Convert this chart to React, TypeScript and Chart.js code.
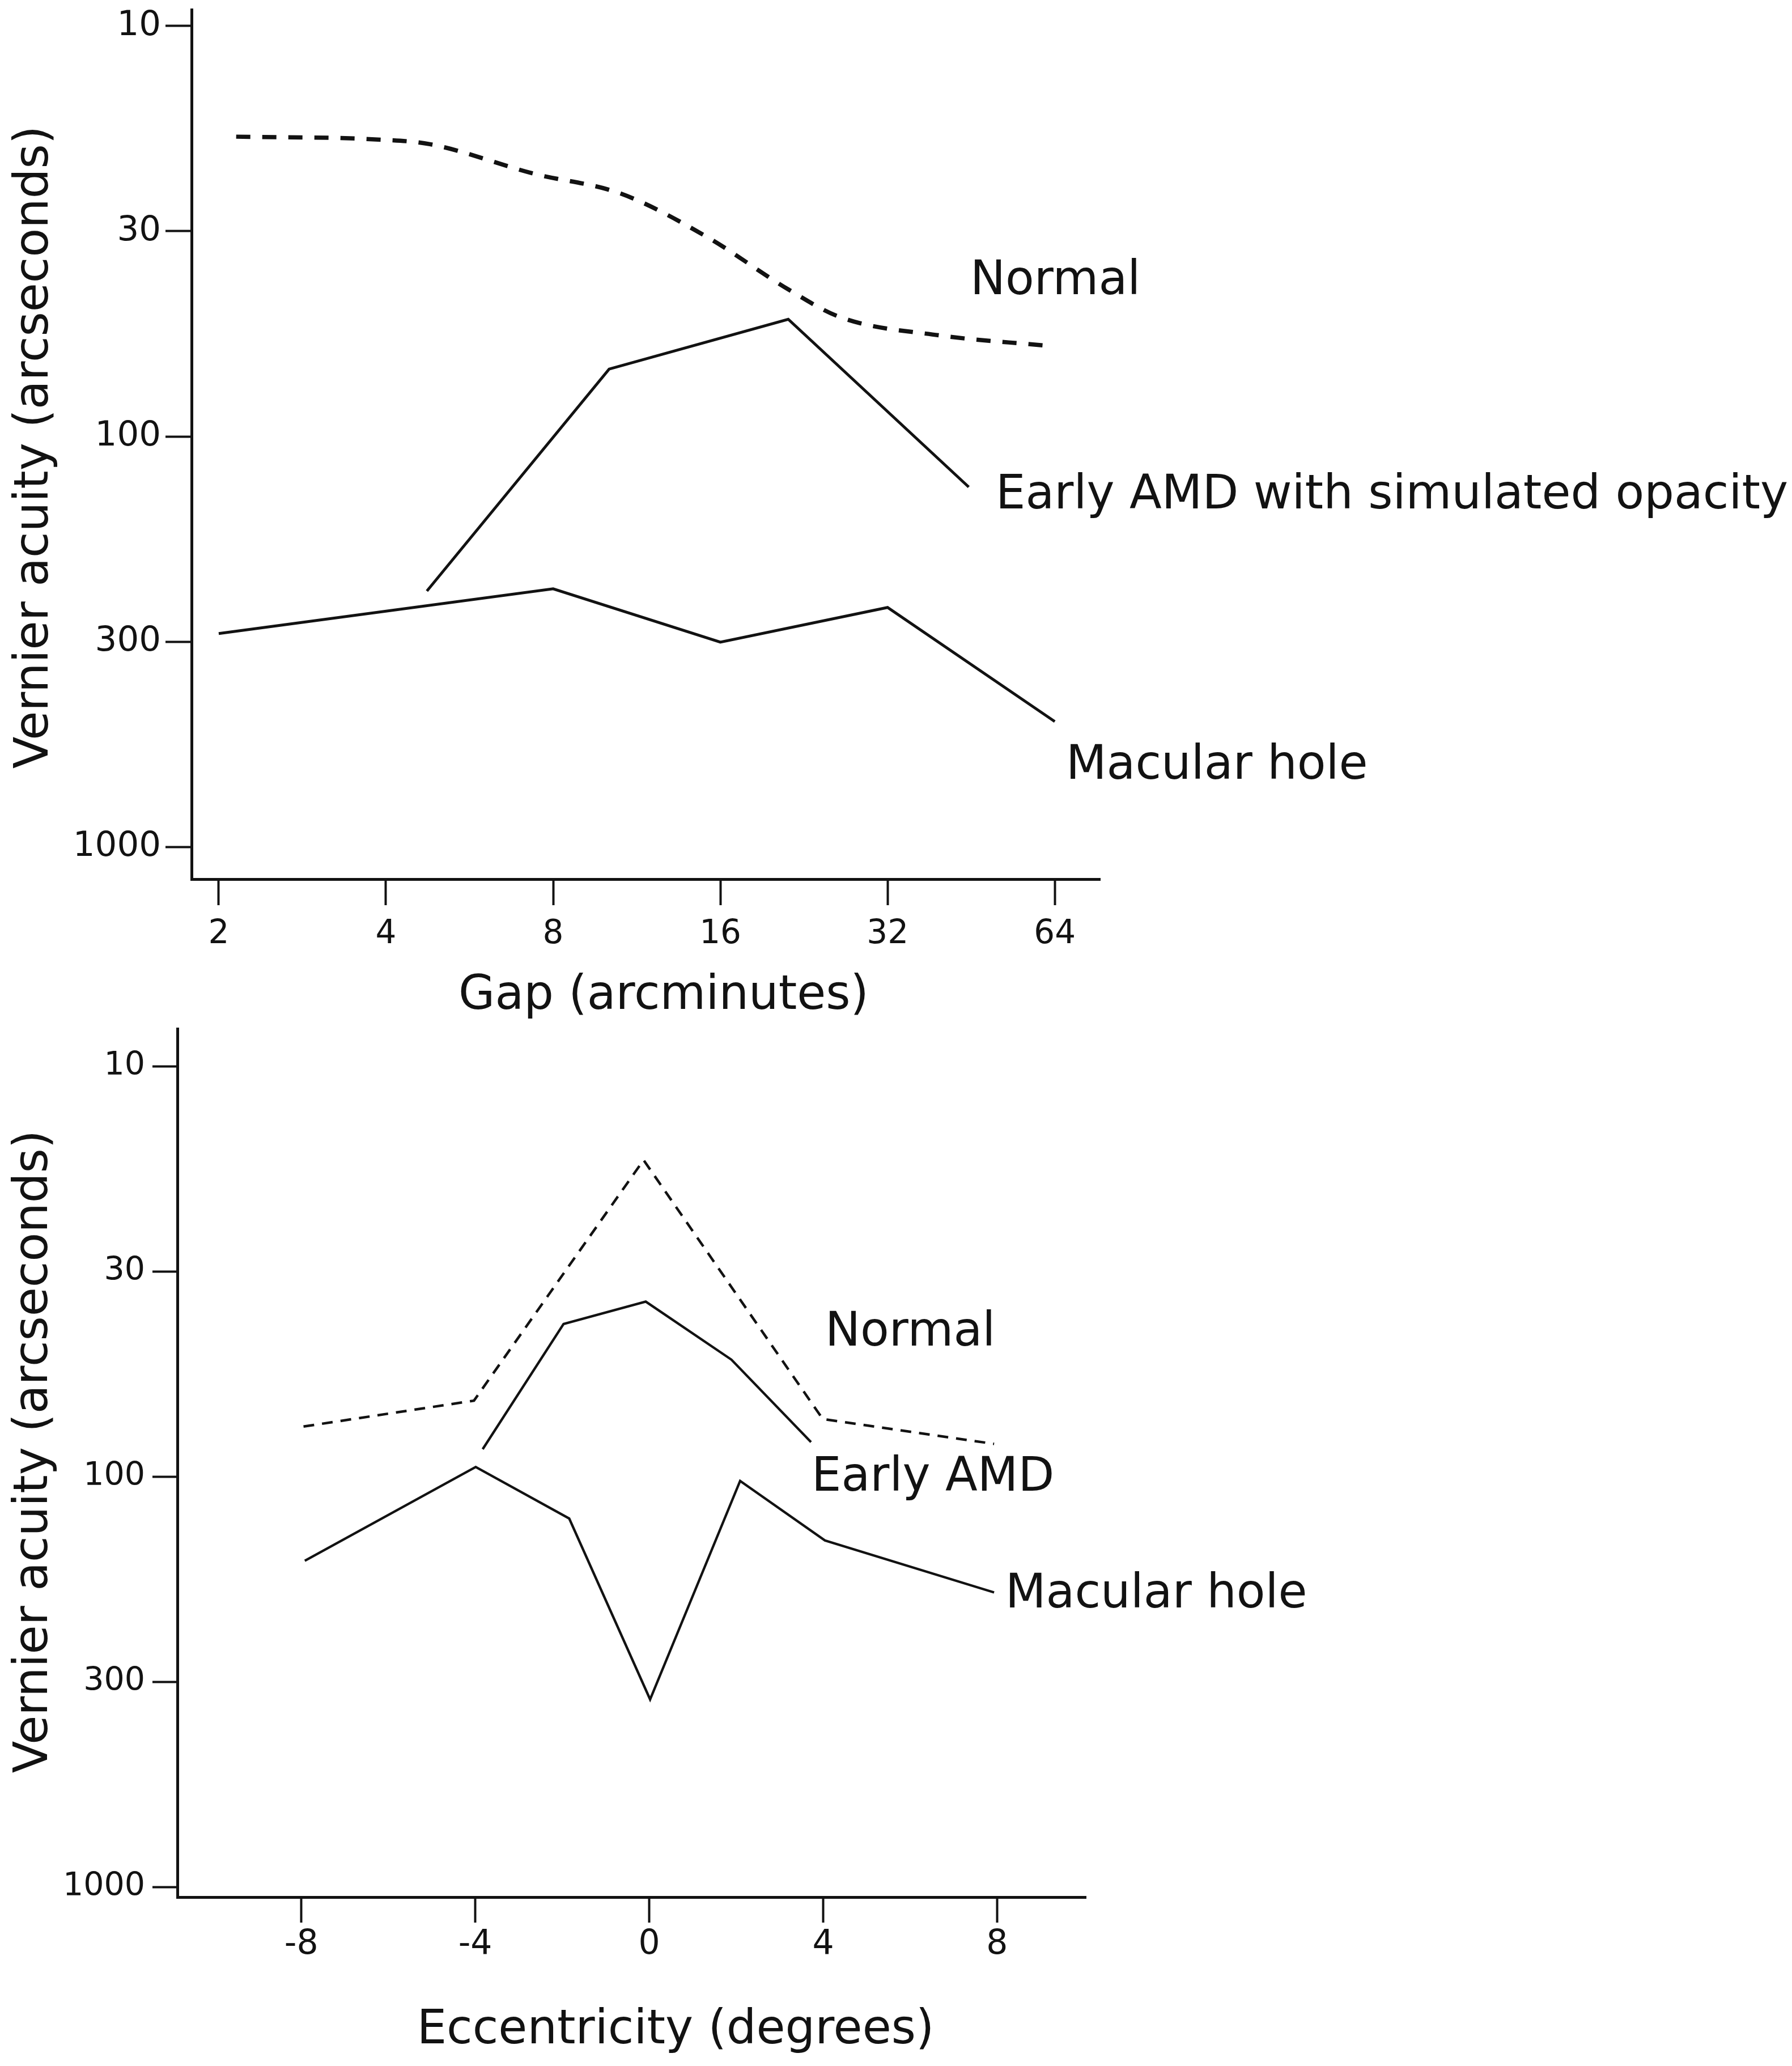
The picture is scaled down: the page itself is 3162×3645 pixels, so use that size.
import React, { useEffect, useRef } from 'react';
import { Chart, registerables } from 'chart.js';

Chart.register(...registerables);

const FONT = '"DejaVu Sans", Verdana, sans-serif';
const INK = '#121212';

// ---------- shared y axis (Vernier acuity, arcseconds, log scale) ----------
const ACUITY_TICK_VALUES = [10, 31.62, 100, 316.2, 1000];
const ACUITY_TICK_LABELS = ['10', '30', '100', '300', '1000'];
const Y_TITLE = 'Vernier acuity (arcseconds)';

// ---------- panel A: gap ----------
const GAP_TICK_VALUES = [2, 4, 8, 16, 32, 64];
const GAP_TICK_LABELS = ['2', '4', '8', '16', '32', '64'];
const GAP_TITLE = 'Gap (arcminutes)';
const GAP_SERIES_NAMES = ['Normal', 'Early AMD with simulated opacity', 'Macular hole'];

const gapNormalX = [2.15, 3.87, 4.8, 7.39, 10.59, 15.17, 21.2, 26.3, 39.6, 61.0];
const gapNormalY = [18.6, 18.9, 19.4, 22.9, 25.6, 32.7, 43.8, 51.2, 56.7, 60.0];
const gapEarlyX = [4.74, 10.09, 21.2, 44.8];
const gapEarlyY = [238, 68.5, 51.8, 132.8];
const gapHoleX = [2, 8, 16, 32, 64];
const gapHoleY = [302, 235, 317, 261, 495];

// ---------- panel B: eccentricity ----------
const ECC_TICK_VALUES = [-8, -4, 0, 4, 8];
const ECC_TICK_LABELS = ['-8', '-4', '0', '4', '8'];
const ECC_TITLE = 'Eccentricity (degrees)';
const ECC_SERIES_NAMES = ['Normal', 'Early AMD', 'Macular hole'];

const eccNormalX = [-7.95, -4.03, -0.13, 3.99, 7.93];
const eccNormalY = [75.4, 65.2, 16.9, 72.3, 83.1];
const eccEarlyX = [-3.83, -1.97, -0.08, 1.89, 3.72];
const eccEarlyY = [85.6, 42.4, 37.4, 51.8, 82.3];
const eccHoleX = [-7.92, -3.99, -1.84, 0.02, 2.09, 4.04, 7.93];
const eccHoleY = [160.1, 94.6, 126.3, 348.6, 102.3, 142.9, 191.3];

const zip = (xs: number[], ys: number[]) => xs.map((x, i) => ({ x, y: ys[i] }));

type TextItem = { text: string; x: number; y: number; size: number; align: CanvasTextAlign; rotate?: boolean };

const textPlugin = (items: TextItem[]) => ({
  id: 'annotations',
  afterDraw(chart: any) {
    const ctx = chart.ctx as CanvasRenderingContext2D;
    for (const it of items) {
      ctx.save();
      ctx.fillStyle = INK;
      ctx.font = `${it.size}px ${FONT}`;
      ctx.textAlign = it.align;
      ctx.textBaseline = 'alphabetic';
      ctx.translate(it.x, it.y);
      if (it.rotate) ctx.rotate(-Math.PI / 2);
      ctx.fillText(it.text, 0, 0);
      ctx.restore();
    }
  },
});

function yAxis(min: number, max: number, width: number, tickLen: number, pad: number, size: number) {
  return {
    type: 'logarithmic',
    reverse: true,
    min,
    max,
    afterBuildTicks: (s: any) => {
      s.ticks = ACUITY_TICK_VALUES.map((v) => ({ value: v }));
    },
    afterFit: (s: any) => {
      s.width = width;
      s.paddingTop = 0;
      s.paddingBottom = 0;
    },
    ticks: {
      autoSkip: false,
      padding: pad,
      color: INK,
      font: { family: FONT, size },
      callback: (_v: any, i: number) => ACUITY_TICK_LABELS[i],
    },
    grid: { display: true, drawOnChartArea: false, drawTicks: true, tickLength: tickLen, tickWidth: 4, tickColor: INK },
    border: { display: true, color: INK, width: 5 },
  };
}

function xAxis(type: string, min: number, max: number, values: number[], labels: string[], height: number, tickLen: number, pad: number, size: number) {
  return {
    type,
    min,
    max,
    afterBuildTicks: (s: any) => {
      s.ticks = values.map((v) => ({ value: v }));
    },
    afterFit: (s: any) => {
      s.height = height;
      s.paddingLeft = 0;
      s.paddingRight = 0;
    },
    ticks: {
      autoSkip: false,
      maxRotation: 0,
      minRotation: 0,
      padding: pad,
      color: INK,
      font: { family: FONT, size },
      callback: (_v: any, i: number) => labels[i],
    },
    grid: { display: true, drawOnChartArea: false, drawTicks: true, tickLength: tickLen, tickWidth: 4, tickColor: INK },
    border: { display: true, color: INK, width: 5 },
  };
}

function baseOptions(padding: any, scales: any) {
  return {
    responsive: false,
    animation: false,
    devicePixelRatio: 1,
    events: [],
    layout: { padding },
    plugins: { legend: { display: false }, tooltip: { enabled: false } },
    elements: { point: { radius: 0 } },
    scales,
  };
}

export default function App() {
  const topRef = useRef<HTMLCanvasElement>(null);
  const botRef = useRef<HTMLCanvasElement>(null);

  useEffect(() => {
    const top = new Chart(topRef.current as HTMLCanvasElement, {
      type: 'line',
      data: {
        datasets: [
          {
            label: GAP_SERIES_NAMES[0],
            data: zip(gapNormalX, gapNormalY),
            borderColor: INK,
            borderWidth: 7.5,
            borderDash: [25, 21],
            cubicInterpolationMode: 'monotone',
            tension: 0.4,
            fill: false,
          },
          { label: GAP_SERIES_NAMES[1], data: zip(gapEarlyX, gapEarlyY), borderColor: INK, borderWidth: 5, fill: false },
          { label: GAP_SERIES_NAMES[2], data: zip(gapHoleX, gapHoleY), borderColor: INK, borderWidth: 5, fill: false },
        ],
      } as any,
      options: baseOptions(
        { left: 0, top: 17, right: 1221, bottom: 0 },
        {
          x: xAxis('logarithmic', 1.787, 77.2, GAP_TICK_VALUES, GAP_TICK_LABELS, 249, 46, 17, 58),
          y: yAxis(9.12, 1198, 338, 46, 8, 61),
        }
      ) as any,
      plugins: [
        textPlugin([
          { text: GAP_SERIES_NAMES[0], x: 1712, y: 519, size: 83, align: 'left' },
          { text: GAP_SERIES_NAMES[1], x: 1757, y: 897, size: 83, align: 'left' },
          { text: GAP_SERIES_NAMES[2], x: 1881, y: 1374, size: 83, align: 'left' },
          { text: GAP_TITLE, x: 1171, y: 1780, size: 83, align: 'center' },
          { text: Y_TITLE, x: 84, y: 789, size: 83, align: 'center', rotate: true },
        ]),
      ],
    });

    const bot = new Chart(botRef.current as HTMLCanvasElement, {
      type: 'line',
      data: {
        datasets: [
          {
            label: ECC_SERIES_NAMES[0],
            data: zip(eccNormalX, eccNormalY),
            borderColor: INK,
            borderWidth: 4.5,
            borderDash: [19, 14],
            fill: false,
          },
          { label: ECC_SERIES_NAMES[1], data: zip(eccEarlyX, eccEarlyY), borderColor: INK, borderWidth: 4.3, fill: false },
          { label: ECC_SERIES_NAMES[2], data: zip(eccHoleX, eccHoleY), borderColor: INK, borderWidth: 4.3, fill: false },
        ],
      } as any,
      options: baseOptions(
        { left: 0, top: 15, right: 1246, bottom: 0 },
        {
          x: xAxis('linear', -10.85, 10.04, ECC_TICK_VALUES, ECC_TICK_LABELS, 298, 45, 3, 60),
          y: yAxis(8.09, 1057, 313, 44, 13, 57),
        }
      ) as any,
      plugins: [
        textPlugin([
          { text: ECC_SERIES_NAMES[0], x: 1456, y: 574, size: 83, align: 'left' },
          { text: ECC_SERIES_NAMES[1], x: 1432, y: 830, size: 83, align: 'left' },
          { text: ECC_SERIES_NAMES[2], x: 1774, y: 1036, size: 83, align: 'left' },
          { text: ECC_TITLE, x: 1192, y: 1805, size: 83, align: 'center' },
          { text: Y_TITLE, x: 83, y: 761, size: 83, align: 'center', rotate: true },
        ]),
      ],
    });

    return () => {
      top.destroy();
      bot.destroy();
    };
  }, []);

  return (
    <div style={{ position: 'absolute', left: 0, top: 0, width: 3162, height: 3645, background: '#ffffff', overflow: 'hidden' }}>
      <canvas
        ref={topRef}
        width={3162}
        height={1800}
        style={{ position: 'absolute', left: 0, top: 0, width: 3162, height: 1800, display: 'block' }}
      />
      <canvas
        ref={botRef}
        width={3162}
        height={1845}
        style={{ position: 'absolute', left: 0, top: 1800, width: 3162, height: 1845, display: 'block' }}
      />
    </div>
  );
}
